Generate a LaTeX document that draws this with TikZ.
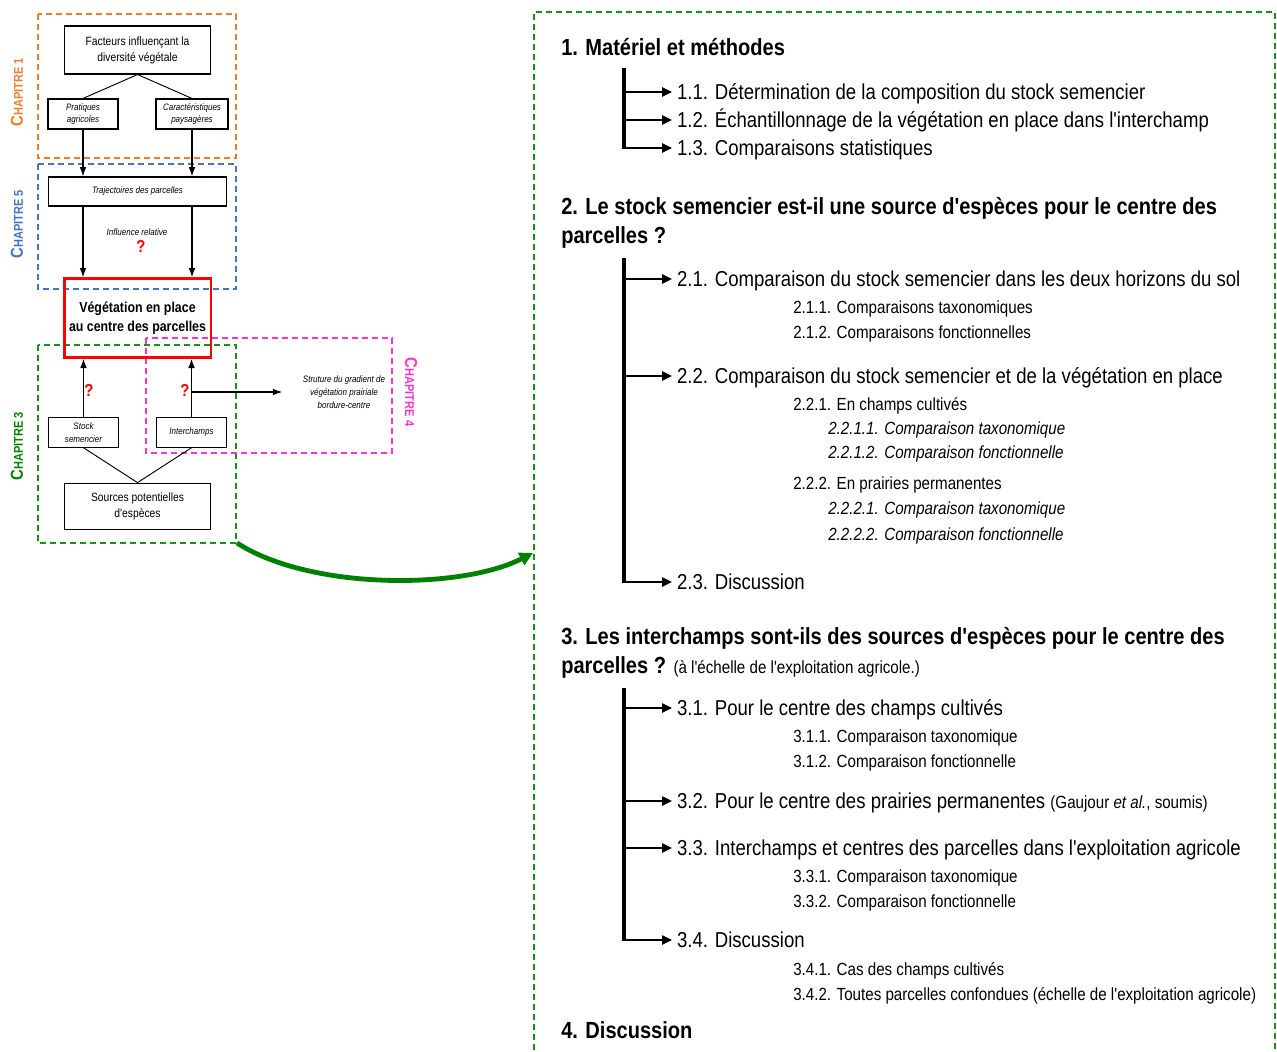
\documentclass[tikz,border=0pt]{standalone}
\usepackage{fontspec}
\setmainfont[FakeStretch=0.86, Ligatures=TeXOff]{Liberation Sans}
\usepackage{tikz}
\usetikzlibrary{arrows.meta}

\definecolor{chorange}{RGB}{237,125,49}
\definecolor{chblue}{RGB}{68,114,196}
\definecolor{chgreen}{RGB}{20,150,20}
\definecolor{arcgreen}{RGB}{0,128,0}
\definecolor{chpink}{RGB}{255,51,204}
\definecolor{qred}{RGB}{255,0,0}

\newcommand{\chapname}[1]{{\fontsize{13}{13}\selectfont C}{\fontsize{9.6}{9.6}\selectfont HAPITRE #1}}

\begin{document}
\begin{tikzpicture}[x=0.75pt,y=-0.75pt,
    box/.style={draw, line width=0.8pt, align=center, inner sep=1pt, font=\fontsize{9}{12}\selectfont},
    smallbox/.style={box, font=\itshape\fontsize{7}{9.5}\selectfont},
    chapframe/.style={line width=1pt, dash pattern=on 4.5pt off 3pt},
    chaplabel/.style={font=\bfseries},
    link/.style={-{Latex[length=7pt,width=5pt]}, line width=0.9pt},
    qmark/.style={text=qred, font=\bfseries\fontsize{13}{13}\selectfont},
    sec/.style={anchor=west, inner sep=0pt, text height=12.6pt, text depth=0pt, font=\bfseries\fontsize{17.5}{17.5}\selectfont},
    sub/.style={anchor=west, inner sep=0pt, outer sep=3.75pt, text height=11.6pt, text depth=0pt, font=\fontsize{16.2}{16.2}\selectfont},
    subsub/.style={anchor=west, inner sep=0pt, text height=9.45pt, text depth=0pt, font=\fontsize{13.2}{13.2}\selectfont},
    tree/.style={line width=3pt},
    branch/.style={-{Triangle[length=7.5pt,width=7pt]}, line width=1.1pt}]

    \useasboundingbox (0,0) rectangle (1277,1052);
    \clip (0,0) rectangle (1277,1052);

    % Chapter frames of the left scheme
    \draw[chapframe, chorange] (38,14) rectangle (236,158);
    \draw[chapframe, chblue] (38,164) rectangle (236,289);
    \draw[chapframe, chgreen] (38,345) rectangle (236,543);
    \draw[chapframe, chpink] (146,338) rectangle (392,453);
    \node[chaplabel, rotate=90, text=chorange] (lab1) at (17,92) {\chapname{1}};
    \node[chaplabel, rotate=90, text=chblue] (lab5) at (17,224) {\chapname{5}};
    \node[chaplabel, rotate=90, text=arcgreen] (lab3) at (17,446) {\chapname{3}};
    \node[chaplabel, rotate=-90, text=chpink] (lab4) at (411,392) {\chapname{4}};

    % Factors
    \node[box, minimum width=110pt, minimum height=36pt] (fact) at (137.5,50) {Facteurs influençant la\\diversité végétale};
    \node[smallbox, minimum width=52.5pt, minimum height=22.5pt] (prat) at (83,114) {Pratiques\\agricoles};
    \node[smallbox, minimum width=54pt, minimum height=22.5pt] (cara) at (192,114) {Caractéristiques\\paysagères};
    \draw[line width=0.7pt] (fact.south) -- (prat.north);
    \draw[line width=0.7pt] (fact.south) -- (cara.north);

    % Trajectories
    \node[smallbox, minimum width=134pt, minimum height=21.75pt] (traj) at (137.5,191.5) {Trajectoires des parcelles};
    \node[font=\itshape\fontsize{7}{8.5}\selectfont] (infl) at (137,232) {Influence relative};
    \node[qmark] (q1) at (141,246) {?};

    % Vegetation in the field centre
    \node[box, draw=qred, line width=2pt, minimum width=110pt, minimum height=59pt, font=\bfseries\fontsize{10.8}{14}\selectfont] (veg) at (137.5,318) {Végétation en place\\au centre des parcelles};

    \draw[link] (prat.south) -- (prat.south |- traj.north);
    \draw[link] (cara.south) -- (cara.south |- traj.north);
    \draw[link] (prat.south |- traj.south) -- (prat.south |- veg.north);
    \draw[link] (cara.south |- traj.south) -- (cara.south |- veg.north);

    % Sources
    \node[smallbox, minimum width=53pt, minimum height=22pt] (stock) at (83.5,432.5) {Stock\\semencier};
    \node[smallbox, minimum width=53pt, minimum height=22pt] (inter) at (191.5,432.5) {Interchamps};
    \node[box, minimum width=110pt, minimum height=35pt] (src) at (137.5,506.5) {Sources potentielles\\d'espèces};
    \draw[line width=0.7pt] (stock.south) -- (src.north);
    \draw[line width=0.7pt] (inter.south) -- (src.north);
    \draw[link] (stock.north) -- (stock.north |- veg.south);
    \draw[link] (inter.north) -- (inter.north |- veg.south);
    \node[qmark] (q2) at (89,390) {?};
    \node[qmark] (q3) at (185,390) {?};

    % Gradient (chapter 4)
    \node[align=center, font=\itshape\fontsize{7}{9.5}\selectfont] (grad) at (344,392) {Struture du gradient de\\végétation prairiale\\bordure-centre};
    \draw[link] (inter.north |- grad.west) -- ([xshift=-12pt]grad.west);

    % Link to the plan
    \coordinate (arcA) at (237,543);
    \coordinate (arcB) at (533,553);
    \draw[arcgreen, line width=3.6pt, -{Triangle[length=10pt,width=10pt]}] (arcA) .. controls (310,590) and (460,590) .. (arcB);

    % Plan of the chapter
    \draw[chapframe, chgreen] (534,1070) -- (534,12) -- (1275,12) -- (1275,1070);

    \node[sec] (sec1) at (561,47) {1. Matériel et méthodes};
    \coordinate (bar1top) at (624,68);
    \coordinate (bar1bot) at (624,149);
    \draw[tree] (bar1top) -- (bar1bot);
    \node[sub] (s11) at (672,92) {1.1. Détermination de la composition du stock semencier};
    \node[sub] (s12) at (672,120) {1.2. Échantillonnage de la végétation en place dans l'interchamp};
    \node[sub] (s13) at (672,148) {1.3. Comparaisons statistiques};
    \foreach \s in {s11,s12,s13}
        \draw[branch] (\s.west -| bar1top) -- (\s.west);

    \node[sec] (sec2a) at (561,206) {2. Le stock semencier est-il une source d'espèces pour le centre des};
    \node[sec] (sec2b) at (561,235) {parcelles ?};
    \coordinate (bar2top) at (624,258);
    \coordinate (bar2bot) at (624,583);
    \draw[tree] (bar2top) -- (bar2bot);
    \node[sub] (s21) at (672,279) {2.1. Comparaison du stock semencier dans les deux horizons du sol};
    \node[subsub] (s211) at (793,307) {2.1.1. Comparaisons taxonomiques};
    \node[subsub] (s212) at (793,332) {2.1.2. Comparaisons fonctionnelles};
    \node[sub] (s22) at (672,376) {2.2. Comparaison du stock semencier et de la végétation en place};
    \node[subsub] (s221) at (793,404) {2.2.1. En champs cultivés};
    \node[subsub, font=\itshape\fontsize{13.2}{13.2}\selectfont] (s2211) at (828,428) {2.2.1.1. Comparaison taxonomique};
    \node[subsub, font=\itshape\fontsize{13.2}{13.2}\selectfont] (s2212) at (828,452) {2.2.1.2. Comparaison fonctionnelle};
    \node[subsub] (s222) at (793,483) {2.2.2. En prairies permanentes};
    \node[subsub, font=\itshape\fontsize{13.2}{13.2}\selectfont] (s2221) at (828,508) {2.2.2.1. Comparaison taxonomique};
    \node[subsub, font=\itshape\fontsize{13.2}{13.2}\selectfont] (s2222) at (828,534) {2.2.2.2. Comparaison fonctionnelle};
    \node[sub] (s23) at (672,582) {2.3. Discussion};
    \foreach \s in {s21,s22,s23}
        \draw[branch] (\s.west -| bar2top) -- (\s.west);

    \node[sec] (sec3a) at (561,636) {3. Les interchamps sont-ils des sources d'espèces pour le centre des};
    \node[sec] (sec3b) at (561,665) {parcelles ? {\mdseries\fontsize{13.2}{13.2}\selectfont(à l'échelle de l'exploitation agricole.)}};
    \coordinate (bar3top) at (624,688);
    \coordinate (bar3bot) at (624,941);
    \draw[tree] (bar3top) -- (bar3bot);
    \node[sub] (s31) at (672,708) {3.1. Pour le centre des champs cultivés};
    \node[subsub] (s311) at (793,736) {3.1.1. Comparaison taxonomique};
    \node[subsub] (s312) at (793,761) {3.1.2. Comparaison fonctionnelle};
    \node[sub] (s32) at (672,801) {3.2. Pour le centre des prairies permanentes {\fontsize{13.2}{13.2}\selectfont(Gaujour \textit{et al.}, soumis)}};
    \node[sub] (s33) at (672,848) {3.3. Interchamps et centres des parcelles dans l'exploitation agricole};
    \node[subsub] (s331) at (793,876) {3.3.1. Comparaison taxonomique};
    \node[subsub] (s332) at (793,901) {3.3.2. Comparaison fonctionnelle};
    \node[sub] (s34) at (672,940) {3.4. Discussion};
    \node[subsub] (s341) at (793,969) {3.4.1. Cas des champs cultivés};
    \node[subsub] (s342) at (793,994) {3.4.2. Toutes parcelles confondues (échelle de l'exploitation agricole)};
    \foreach \s in {s31,s32,s33,s34}
        \draw[branch] (\s.west -| bar3top) -- (\s.west);

    \node[sec] (sec4) at (561,1030) {4. Discussion};
\end{tikzpicture}
\end{document}
